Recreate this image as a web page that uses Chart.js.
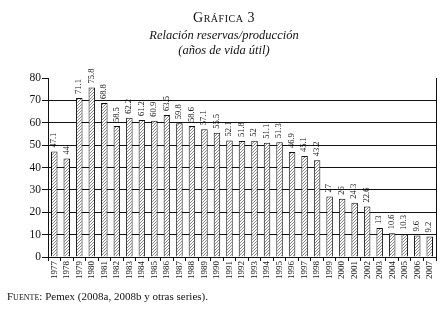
<!DOCTYPE html>
<html>
<head>
<meta charset="utf-8">
<script src="https://cdn.jsdelivr.net/npm/chart.js@4"></script>
<style>
  body { margin: 0; background: #fff; }
  #wrap { position: relative; width: 448px; height: 312px; font-family: "Liberation Serif", "DejaVu Serif", serif; color: #111; }
  canvas { position: absolute; left: 0; top: 0; }
  .t { position: absolute; left: 0; width: 448px; text-align: center; }
  #t1 { top: 10px; font-size: 14px; font-variant: small-caps; letter-spacing: 0.5px; }
  #t2 { top: 28px; font-size: 12.5px; font-style: italic; }
  #t3 { top: 43px; font-size: 12.5px; font-style: italic; }
  #src { position: absolute; left: 7px; top: 290px; font-size: 11px; }
  #src span { font-variant: small-caps; }
</style>
</head>
<body>
<div id="wrap">
  <canvas id="grafica" width="448" height="312"></canvas>
  <div class="t" id="t1">Gráfica 3</div>
  <div class="t" id="t2">Relación reservas/producción</div>
  <div class="t" id="t3">(años de vida útil)</div>
  <div id="src"><span>Fuente</span>: Pemex (2008a, 2008b y otras series).</div>
</div>
<script>
const anios = ['1977','1978','1979','1980','1981','1982','1983','1984','1985','1986',
  '1987','1988','1989','1990','1991','1992','1993','1994','1995','1996','1997','1998',
  '1999','2000','2001','2002','2003','2004','2005','2006','2007'];
const vidaUtil = [47.1, 44, 71.1, 75.8, 68.8, 58.5, 62.2, 61.2, 60.9, 63.5,
  59.8, 58.6, 57.1, 55.5, 52.1, 51.8, 52, 51.1, 51.3, 46.9, 45.1, 43.2,
  27, 26, 24.3, 22.6, 13, 10.6, 10.3, 9.6, 9.2];
const etiquetas = ['47.1','44','71.1','75.8','68.8','58.5','62.2','61.2','60.9','63.5',
  '59.8','58.6','57.1','55.5','52.1','51.8','52','51.1','51.3','46.9','45.1','43.2',
  '27','26','24.3','22.6','13','10.6','10.3','9.6','9.2'];

// rayado diagonal para las barras
function rayado() {
  const c = document.createElement('canvas');
  c.width = 3; c.height = 3;
  const g = c.getContext('2d');
  g.fillStyle = '#fff';
  g.fillRect(0, 0, 3, 3);
  g.strokeStyle = '#555';
  g.lineWidth = 0.7;
  g.beginPath();
  g.moveTo(-1, 4); g.lineTo(4, -1);
  g.moveTo(-1, 1); g.lineTo(1, -1);
  g.moveTo(2, 4); g.lineTo(4, 2);
  g.stroke();
  return g.createPattern(c, 'repeat');
}

const valoresArriba = {
  id: 'valoresArriba',
  afterDatasetsDraw(chart) {
    const ctx = chart.ctx;
    const meta = chart.getDatasetMeta(0);
    ctx.save();
    ctx.fillStyle = '#111';
    ctx.font = '8.5px "Liberation Serif", serif';
    ctx.textAlign = 'left';
    ctx.textBaseline = 'middle';
    meta.data.forEach((bar, i) => {
      ctx.save();
      ctx.translate(bar.x - 0.5, bar.y - 4);
      ctx.rotate(-Math.PI / 2);
      ctx.fillText(etiquetas[i], 0, 0);
      ctx.restore();
    });
    ctx.restore();
  }
};

const ctx = document.getElementById('grafica').getContext('2d');
const myChart = new Chart(ctx, {
  type: 'bar',
  data: {
    labels: anios,
    datasets: [{
      data: vidaUtil,
      backgroundColor: rayado(),
      borderColor: '#111',
      borderWidth: 1,
      barPercentage: 0.52,
      categoryPercentage: 1
    }]
  },
  options: {
    responsive: false,
    animation: false,
    layout: { padding: { top: 78, right: 12, left: 0, bottom: 0 } },
    plugins: { legend: { display: false }, tooltip: { enabled: false } },
    scales: {
      x: {
        grid: { offset: true, drawOnChartArea: false, color: '#111', tickLength: 4 },
        border: { color: '#111', width: 1 },
        ticks: {
          minRotation: 90, maxRotation: 90, autoSkip: false,
          color: '#111', padding: 0,
          font: { family: '"Liberation Serif", serif', size: 9 }
        },
        afterFit: s => { s.height = 55; }
      },
      y: {
        min: 0, max: 80,
        ticks: {
          stepSize: 10, color: '#111', padding: 1,
          font: { family: '"Liberation Serif", serif', size: 11.5 }
        },
        grid: {
          color: c => (c.tick && c.tick.value === 80) ? 'rgba(0,0,0,0)' : '#111',
          tickColor: '#111', tickLength: 6, lineWidth: 1
        },
        border: { color: '#111', width: 1 },
        afterFit: s => { s.width = 48; }
      },
      y2: {
        position: 'right',
        min: 0, max: 80,
        ticks: { display: false },
        grid: { display: false },
        border: { color: '#111', width: 1 },
        afterFit: s => { s.width = 0; }
      }
    }
  },
  plugins: [valoresArriba]
});
</script>
</body>
</html>
